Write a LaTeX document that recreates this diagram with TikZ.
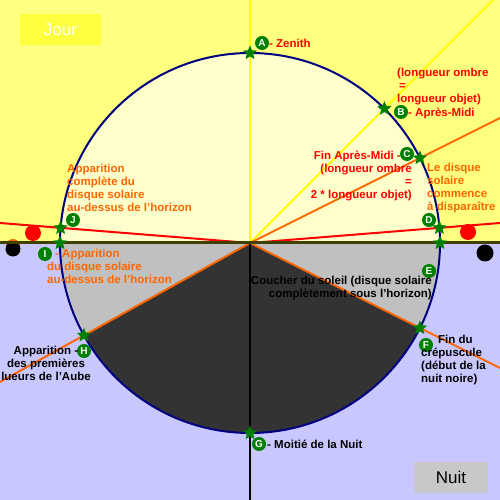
\documentclass[tikz,border=0pt]{standalone}
\usepackage{fontspec}
\setmainfont{Liberation Sans}
\usetikzlibrary{calc,shapes.geometric}
\definecolor{daysky}{RGB}{255,255,128}
\definecolor{dayin}{RGB}{255,255,204}
\definecolor{nightsky}{RGB}{200,200,255}
\definecolor{dusk}{RGB}{192,192,192}
\definecolor{deepnight}{RGB}{51,51,51}
\definecolor{orbit}{RGB}{0,0,128}
\definecolor{ground}{RGB}{64,64,0}
\definecolor{stargreen}{RGB}{0,128,0}
\definecolor{sunorange}{RGB}{255,102,0}
\definecolor{sunyellow}{RGB}{255,255,0}
\definecolor{jourbox}{RGB}{255,255,64}
\definecolor{nuitbox}{RGB}{200,200,200}
\begin{document}
\begin{tikzpicture}[x=1pt, y=1pt,
  ray/.style={line width=2pt},
  spot/.style={star, star points=5, star point ratio=2.2, fill=stargreen, minimum size=15pt, inner sep=0pt},
  badge/.style={circle, fill=stargreen, text=white, minimum size=14pt, inner sep=0pt, font=\fontsize{10}{10}\selectfont\bfseries},
  lbl/.style={inner sep=0pt, font=\fontsize{11.5}{13}\selectfont\bfseries},
  tag/.style={minimum height=31pt, inner sep=0pt, font=\fontsize{17}{17}\selectfont}]
\useasboundingbox (0,0) rectangle (500,500);
\coordinate (O) at (250,257);
\foreach \n/\a in {A/90, B/45, C/26.57, D/4.57, E/0, F/-26.57, G/-90, H/209.07, I/180, J/175.43}
  \coordinate (\n) at ($(O)+(\a:190)$);
\coordinate (zen) at (250,500);
\coordinate (noon45) at (493,500);
\coordinate (late) at (500,382);
\coordinate (redr) at (500,277);
\coordinate (redl) at (0,277);
\coordinate (duskr) at (500,132);
\coordinate (dawnl) at (0,118);
\coordinate (nadir) at (250,0);
\coordinate (west) at (0,257);
\coordinate (east) at (500,257);

\fill[daysky] (0,257) rectangle (500,500);
\fill[nightsky] (0,0) rectangle (500,257);
\fill[dayin] (O) -- (E) arc[start angle=0, end angle=180, radius=190] -- cycle;
\fill[dusk] (O) -- (I) arc[start angle=180, end angle=360, radius=190] -- cycle;
\fill[deepnight] (O) -- (H) arc[start angle=209.07, end angle=333.43, radius=190] -- cycle;

\draw[ray, sunyellow] (O) -- (zen);
\draw[ray, sunyellow] (O) -- (noon45);
\draw[ray, sunorange] (O) -- (late);
\draw[ray, sunorange] (O) -- (duskr);
\draw[ray, sunorange] (O) -- (dawnl);
\draw[ray, red] (O) -- (redr);
\draw[ray, red] (O) -- (redl);
\draw[ray, black] (O) -- (nadir);
\draw[orbit, line width=2pt] (O) circle[radius=190];

\fill[red] (33,267) circle[radius=8];
\fill[red] (468,268) circle[radius=8];
\fill[sunorange] (13,254) circle[radius=7];
\fill[black] (13,251) circle[radius=7.5];
\fill[black] (485,247) circle[radius=8.5];
\draw[ground, line width=3pt] (west) -- (east);

\foreach \n in {A,B,C,D,E,F,G,H,I,J}
  \node[spot] (s\n) at (\n) {};

\node[badge] (bA) at (262,457) {A};
\node[badge] (bB) at (401,388) {B};
\node[badge] (bC) at (407,346) {C};
\node[badge] (bD) at (429,280) {D};
\node[badge] (bE) at (429,229) {E};
\node[badge] (bF) at (426,155) {F};
\node[badge] (bG) at (259,56) {G};
\node[badge] (bH) at (84,149) {H};
\node[badge] (bI) at (45,246) {I};
\node[badge] (bJ) at (73,280) {J};

\node[lbl, text=red, anchor=west] (tA) at (269,457) {- Zenith};
\node[lbl, text=red, anchor=west] (tB) at (408,387) {- Après-Midi};
\node[lbl, text=red, align=left, anchor=west] (qB) at (397,413) {(longueur ombre\\\hspace*{2pt}=\\longueur objet)};
\node[lbl, text=red, anchor=east] (tC) at (401,344) {Fin Après-Midi -};
\node[lbl, text=red, align=right, anchor=east] (qC) at (412,317) {(longueur ombre\\=\\2 * longueur objet)};
\node[lbl, text=sunorange, align=left, anchor=west] (tD) at (427,312) {Le disque\\solaire\\commence\\à disparaître};
\node[lbl, align=right, anchor=east] (tE) at (432,212) {Coucher du soleil (disque solaire\\complètement sous l'horizon)};
\node[lbl, align=left, anchor=west] (tF) at (421,139.5) {\hspace*{17pt}Fin du\\crépuscule\\(début de la\\nuit noire)};
\node[lbl, anchor=west] (tG) at (267,56) {- Moitié de la Nuit};
\node[lbl, align=center] (tH) at (46,137) {Apparition -\\des premières\\lueurs de l'Aube};
\node[lbl, text=sunorange, align=left, anchor=west] (tI) at (47,234) {\hspace*{8pt}- Apparition\\du disque solaire\\au-dessus de l'horizon};
\node[lbl, text=sunorange, align=left, anchor=west] (tJ) at (67,312) {Apparition\\complète du\\disque solaire\\au-dessus de l'horizon};

\node[tag, fill=jourbox, text=white, minimum width=81pt] (jour) at (60.5,470.5) {Jour};
\node[tag, fill=nuitbox, minimum width=74pt] (nuit) at (451,22.5) {Nuit};
\end{tikzpicture}
\end{document}
